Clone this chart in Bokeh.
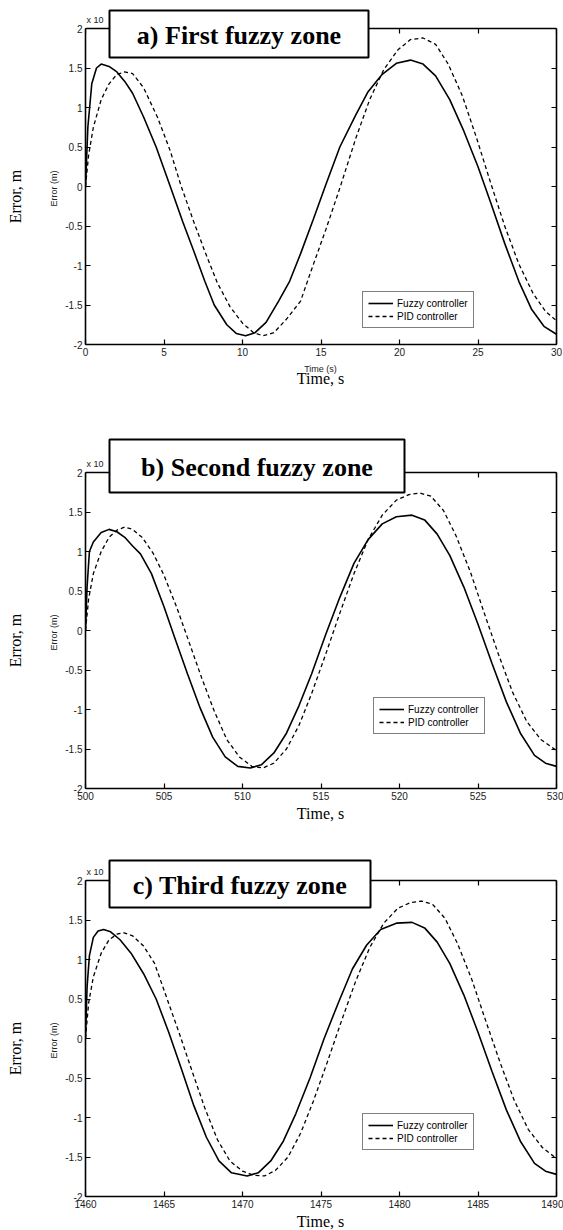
import math
from bokeh.plotting import figure
from bokeh.layouts import column
from bokeh.models import (Range1d, LinearAxis, FixedTicker, CustomJSTickFormatter,
                          Label, BoxAnnotation, Legend, LegendItem)
from bokeh.embed import file_html
from bokeh.resources import INLINE

# ---------------- data (error values in units of 1e-8 m) ----------------
titles = ["a) First fuzzy zone", "b) Second fuzzy zone", "c) Third fuzzy zone"]
series_names = ["Fuzzy controller", "PID controller"]
x_ranges = [(0, 30), (500, 530), (1460, 1490)]
x_ticks = [[0, 5, 10, 15, 20, 25, 30],
           [500, 505, 510, 515, 520, 525, 530],
           [1460, 1465, 1470, 1475, 1480, 1485, 1490]]
y_ticks = [-2, -1.5, -1, -0.5, 0, 0.5, 1, 1.5, 2]
y_min, y_max = -2, 2

t_a_fuzzy = [0, 0.15, 0.4, 0.7, 1.0, 1.5, 2.0, 2.5, 3.0, 3.7, 4.5, 5.4, 6.2, 6.9, 7.6, 8.2, 9.0, 9.6,
             10.2, 10.8, 11.5, 12.3, 13.0, 13.7, 14.5, 15.3, 16.2, 17.2, 18.0, 18.9, 19.8, 20.7,
             21.5, 22.3, 23.2, 24.1, 25.0, 25.8, 26.7, 27.6, 28.4, 29.2, 30.0]
e_a_fuzzy = [0, 0.75, 1.3, 1.5, 1.55, 1.52, 1.45, 1.33, 1.18, 0.88, 0.5, 0.0, -0.45, -0.82, -1.2, -1.5,
             -1.75, -1.86, -1.89, -1.85, -1.72, -1.45, -1.2, -0.85, -0.42, 0.02, 0.5, 0.9, 1.2, 1.42,
             1.56, 1.6, 1.55, 1.4, 1.1, 0.7, 0.25, -0.2, -0.72, -1.2, -1.55, -1.77, -1.87]
t_a_pid = [0, 0.2, 0.5, 1.0, 1.5, 2.0, 2.5, 3.0, 3.7, 4.6, 5.4, 6.1, 6.9, 7.6, 8.4, 9.2, 10.0, 10.7,
           11.3, 12.0, 12.8, 13.7, 14.4, 15.3, 16.2, 17.2, 18.1, 19.0, 19.9, 20.7, 21.5, 22.3, 23.1,
           24.0, 24.9, 25.8, 26.7, 27.6, 28.5, 29.3, 30.0]
e_a_pid = [0, 0.4, 0.75, 1.1, 1.3, 1.42, 1.45, 1.43, 1.25, 0.87, 0.45, 0.0, -0.45, -0.82, -1.22, -1.52,
           -1.73, -1.85, -1.89, -1.85, -1.68, -1.45, -1.05, -0.55, -0.02, 0.6, 1.1, 1.48, 1.73, 1.86,
           1.88, 1.8, 1.55, 1.15, 0.62, 0.05, -0.5, -0.98, -1.35, -1.58, -1.7]

t_b_fuzzy = [500.0, 500.1, 500.25, 500.5, 501.0, 501.5, 502.0, 502.5, 503.0, 503.5, 504.2, 505.0, 505.7,
             506.5, 507.3, 508.1, 508.9, 509.7, 510.5, 511.2, 512.0, 512.8, 513.6, 514.4, 515.3, 516.2,
             517.1, 518.0, 518.9, 519.8, 520.8, 521.6, 522.4, 523.2, 524.1, 525.0, 525.9, 526.8, 527.7,
             528.6, 529.3, 530.0]
e_b_fuzzy = [0.0, 0.55, 1.0, 1.12, 1.24, 1.28, 1.25, 1.18, 1.07, 0.97, 0.72, 0.3, -0.1, -0.55, -0.98,
             -1.35, -1.6, -1.72, -1.74, -1.7, -1.55, -1.3, -0.95, -0.55, -0.05, 0.42, 0.85, 1.15, 1.35,
             1.44, 1.46, 1.4, 1.22, 0.95, 0.55, 0.08, -0.42, -0.9, -1.3, -1.58, -1.68, -1.72]
t_b_pid = [500.0, 500.2, 500.5, 501.0, 501.5, 502.0, 502.5, 503.0, 503.6, 504.3, 505.0, 505.8, 506.6,
           507.4, 508.2, 509.0, 509.8, 510.6, 511.3, 512.0, 512.8, 513.6, 514.4, 515.3, 516.2, 517.1,
           518.0, 518.9, 519.8, 520.6, 521.3, 522.0, 522.8, 523.6, 524.5, 525.4, 526.3, 527.2, 528.1,
           529.0, 530.0]
e_b_pid = [0.0, 0.4, 0.72, 1.0, 1.18, 1.27, 1.31, 1.28, 1.18, 0.98, 0.7, 0.3, -0.15, -0.6, -1.02, -1.38,
           -1.6, -1.72, -1.74, -1.68, -1.5, -1.2, -0.8, -0.3, 0.22, 0.72, 1.15, 1.46, 1.65, 1.72, 1.74,
           1.7, 1.52, 1.2, 0.75, 0.22, -0.3, -0.78, -1.15, -1.38, -1.52]

t_c_fuzzy = [1460.0, 1460.1, 1460.25, 1460.5, 1460.8, 1461.15, 1461.6, 1462.2, 1462.9, 1463.7, 1464.5,
             1465.3, 1466.1, 1466.9, 1467.7, 1468.5, 1469.3, 1470.3, 1471.0, 1471.8, 1472.6, 1473.4,
             1474.3, 1475.2, 1476.1, 1477.0, 1477.9, 1478.8, 1479.8, 1480.8, 1481.6, 1482.4, 1483.2,
             1484.1, 1485.0, 1485.9, 1486.8, 1487.7, 1488.6, 1489.3, 1490.0]
e_c_fuzzy = [0.0, 0.65, 1.05, 1.28, 1.36, 1.38, 1.35, 1.25, 1.08, 0.82, 0.5, 0.08, -0.38, -0.85, -1.25,
             -1.55, -1.7, -1.74, -1.7, -1.55, -1.3, -0.95, -0.5, 0.0, 0.45, 0.88, 1.18, 1.38, 1.46, 1.47,
             1.4, 1.22, 0.95, 0.55, 0.08, -0.42, -0.9, -1.3, -1.58, -1.68, -1.72]
t_c_pid = [1460.0, 1460.2, 1460.5, 1461.0, 1461.5, 1462.0, 1462.4, 1463.0, 1463.7, 1464.4, 1465.2,
           1466.0, 1466.8, 1467.6, 1468.4, 1469.2, 1470.0, 1470.7, 1471.4, 1472.1, 1472.9, 1473.7,
           1474.5, 1475.4, 1476.3, 1477.2, 1478.1, 1479.0, 1479.9, 1480.7, 1481.4, 1482.1, 1482.9,
           1483.7, 1484.6, 1485.5, 1486.4, 1487.3, 1488.2, 1489.1, 1490.0]
e_c_pid = [0.0, 0.45, 0.78, 1.08, 1.25, 1.32, 1.34, 1.3, 1.17, 0.95, 0.5, 0.05, -0.42, -0.88, -1.28,
           -1.55, -1.68, -1.73, -1.74, -1.67, -1.5, -1.2, -0.8, -0.3, 0.22, 0.72, 1.15, 1.46, 1.65, 1.72,
           1.74, 1.7, 1.52, 1.2, 0.75, 0.22, -0.3, -0.78, -1.15, -1.38, -1.52]

fuzzy_t = [t_a_fuzzy, t_b_fuzzy, t_c_fuzzy]
fuzzy_e = [e_a_fuzzy, e_b_fuzzy, e_c_fuzzy]
pid_t = [t_a_pid, t_b_pid, t_c_pid]
pid_e = [e_a_pid, e_b_pid, e_c_pid]

# ---------------- layout (page pixels) ----------------
W = 563
FRAME_LEFT = 85
FW = 471
BOX_H = 316            # height of the drawn axes box (y -2 .. 2)
TOP_PAD = 8            # gap between figure top and plotting frame top
panels = [
    dict(top=0, h=400, btop=28, box=(109, 368, 10, 57), leg=(277, 16), small_x=True, xl_y=378),
    dict(top=400, h=440, btop=472, box=(109, 404, 439, 492), leg=(288, 54), small_x=False, xl_y=813),
    dict(top=840, h=390, btop=880, box=(109, 370, 860, 907), leg=(277, 46), small_x=False, xl_y=1221),
]

fmt = CustomJSTickFormatter(code="return tick.toString();")


def make_panel(i):
    g = panels[i]
    x0, x1 = x_ranges[i]
    btop = g["btop"]
    bbot = btop + BOX_H
    ftop = g["top"] + TOP_PAD
    ppu = BOX_H / (y_max - y_min)
    y_top = y_max + (btop - ftop) / ppu

    def X(px):
        return x0 + (px - FRAME_LEFT) / FW * (x1 - x0)

    def Y(py):
        return y_max - (py - btop) / ppu

    p = figure(width=W, height=g["h"], output_backend="svg", toolbar_location=None,
               x_range=Range1d(x0, x1), y_range=Range1d(y_min, y_top),
               min_border_left=FRAME_LEFT, min_border_right=W - FRAME_LEFT - FW,
               min_border_top=TOP_PAD, min_border_bottom=g["top"] + g["h"] - bbot,
               background_fill_color="white", border_fill_color="white")
    p.outline_line_color = None
    p.xgrid.visible = False
    p.ygrid.visible = False

    bottom_ax = p.below[0]
    left_ax = p.left[0]
    top_ax = LinearAxis(ticker=FixedTicker(ticks=[], minor_ticks=x_ticks[i]), fixed_location=y_max)
    right_ax = LinearAxis(ticker=FixedTicker(ticks=[], minor_ticks=y_ticks), bounds=(y_min, y_max))
    p.add_layout(top_ax, "above")
    p.add_layout(right_ax, "right")
    bottom_ax.ticker = FixedTicker(ticks=x_ticks[i])
    left_ax.ticker = FixedTicker(ticks=y_ticks)
    left_ax.bounds = (y_min, y_max)
    for ax in (bottom_ax, left_ax, top_ax, right_ax):
        ax.formatter = fmt
        ax.axis_line_color = "black"
        ax.axis_line_width = 1.6
        ax.major_tick_line_color = "black"
        ax.major_tick_line_width = 1.2
        ax.major_tick_in = 5
        ax.major_tick_out = 0
        ax.minor_tick_line_color = None
        ax.major_label_text_font = "Liberation Sans"
        ax.major_label_text_font_size = "10px"
        ax.major_label_text_color = "#222222"
        ax.major_label_standoff = 3
    for ax in (top_ax, right_ax):
        ax.minor_tick_line_color = "black"
        ax.minor_tick_line_width = 1.2
        ax.minor_tick_in = 5
        ax.minor_tick_out = 0
        ax.major_label_standoff = 0

    r1 = p.line(fuzzy_t[i], fuzzy_e[i], line_color="black", line_width=1.6)
    r2 = p.line(pid_t[i], pid_e[i], line_color="black", line_width=1.3, line_dash="4 3")
    rdot = p.scatter(x=[], y=[], size=4, color="black")

    leg = Legend(items=[LegendItem(label=series_names[0], renderers=[r1]),
                        LegendItem(label=series_names[1], renderers=[r2, rdot])],
                 location=g["leg"], border_line_color="black", border_line_width=1.2,
                 background_fill_color="white", background_fill_alpha=1.0,
                 padding=5, spacing=1, margin=0, glyph_width=25, glyph_height=12,
                 label_height=12, label_standoff=4, label_text_font="Liberation Sans",
                 label_text_font_size="10px", label_text_color="black")
    p.add_layout(leg)

    # axis labels (side panels, so they are drawn outside the frame)
    p.add_layout(Label(x=X(15), y=Y(btop + BOX_H / 2 + 10), text="Error, m", angle=math.pi / 2,
                       text_align="center", text_baseline="middle", text_font="Liberation Serif",
                       text_font_size="16px", text_color="black"), "left")
    p.add_layout(Label(x=X(53), y=Y(btop + BOX_H / 2 + 2), text="Error (m)", angle=math.pi / 2,
                       text_align="center", text_baseline="middle", text_font="Liberation Sans",
                       text_font_size="9px", text_color="#222222"), "left")
    if g["small_x"]:
        p.add_layout(Label(x=X(320), y=Y(bbot + 24), text="Time (s)", text_align="center",
                           text_baseline="middle", text_font="Liberation Sans",
                           text_font_size="9px", text_color="#222222"), "below")
    p.add_layout(Label(x=X(320), y=Y(g["xl_y"]), text="Time, s", text_align="center",
                       text_baseline="middle", text_font="Liberation Serif",
                       text_font_size="16px", text_color="black"), "below")

    # exponent note and title box (inside the plotting frame, above the axes box)
    p.add_layout(Label(x=X(86), y=Y(btop - 9), text="x 10", text_align="left",
                       text_baseline="middle", text_font="Liberation Sans",
                       text_font_size="9px", text_color="#222222"))
    bx0, bx1, by0, by1 = g["box"]
    p.add_layout(BoxAnnotation(left=X(bx0), right=X(bx1), top=Y(by0), bottom=Y(by1),
                               fill_color="white", fill_alpha=1.0, line_color="black",
                               line_width=2, line_alpha=1.0))
    p.add_layout(Label(x=X((bx0 + bx1) / 2), y=Y((by0 + by1) / 2 + 1), text=titles[i],
                       text_align="center", text_baseline="middle", text_font="Liberation Serif",
                       text_font_style="bold", text_font_size="26px", text_color="black"))
    return p


layout = column(*[make_panel(i) for i in range(3)], spacing=0)
open("out.html", "w").write(file_html(layout, INLINE))
